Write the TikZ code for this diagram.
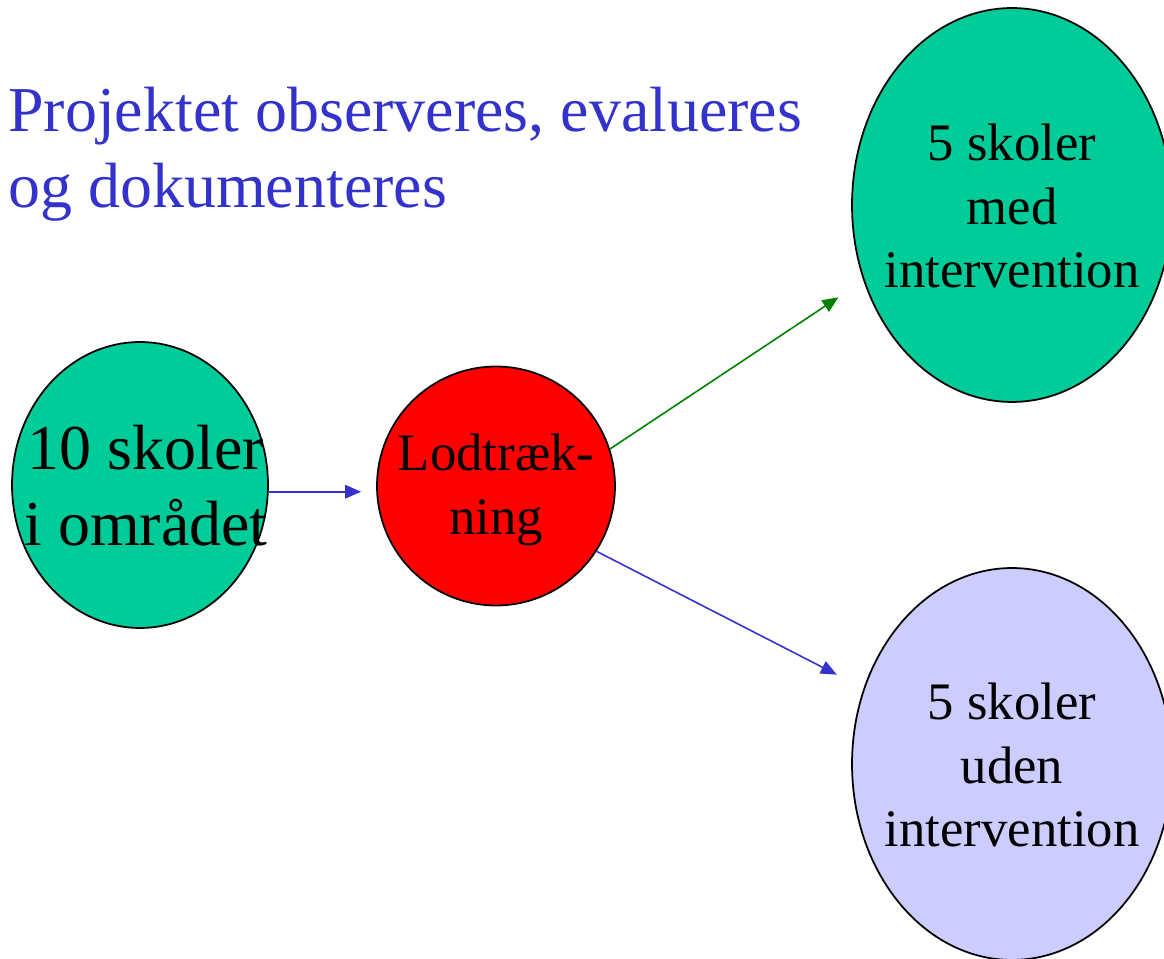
\documentclass[tikz,border=0pt]{standalone}
\usepackage{fontspec}
\setmainfont{Liberation Serif}
\usetikzlibrary{arrows.meta,shapes.geometric}

\definecolor{schoolgreen}{HTML}{00CC99}
\definecolor{schoollilac}{HTML}{CCCCFF}
\definecolor{titleblue}{HTML}{3333CC}
\definecolor{arrowgreen}{HTML}{008000}

\tikzset{
  school/.style={ellipse, draw, line width=1pt, inner sep=0pt},
  schooltext/.style={align=center, inner sep=0pt, font=\fontsize{30}{36}\selectfont},
  link/.style={line width=0.9pt, -{Triangle[length=0.32cm, width=0.27cm]}, shorten >=0.6cm}
}

\begin{document}
\begin{tikzpicture}[x=0.02cm, y=-0.02cm]
        \useasboundingbox (0,0) rectangle (1164,959);

        % Title
        \node[anchor=north west, inner sep=0pt, align=left, text=titleblue,
              font=\fontsize{36.4}{43.2}\selectfont] (title) at (8,87)
              {Projektet observeres, evalueres\\og dokumenteres};

        % Draw vertices
        \node[school, fill=schoolgreen, minimum width=5.12cm, minimum height=5.72cm] (skoler) at (140,485) {};
        \node[school, fill=red, minimum width=4.76cm, minimum height=4.78cm] (lod) at (496,486) {};
        \node[school, fill=schoolgreen, minimum width=6.4cm, minimum height=7.88cm] (med) at (1012,205) {};
        \node[school, fill=schoollilac, minimum width=6.4cm, minimum height=7.84cm] (uden) at (1012,764) {};

        \node[schooltext, font=\fontsize{36.4}{43.2}\selectfont] (skolertext) at (146,486) {10 skoler\\i området};
        \node[schooltext] (lodtext) at (496,490) {Lodtræk-\\ning};
        \node[schooltext] (medtext) at (1012,206) {5 skoler\\med\\intervention};
        \node[schooltext] (udentext) at (1012,765) {5 skoler\\uden\\intervention};

        % Draw edges
        \draw[link, titleblue, shorten >=0.3cm] (skoler.-3) -- (skoler.-3 -| lod.west);
        \draw[link, arrowgreen] (lod.18) -- (med.207);
        \draw[link, titleblue] (lod.-33) -- (uden.153);
      \end{tikzpicture}
\end{document}
